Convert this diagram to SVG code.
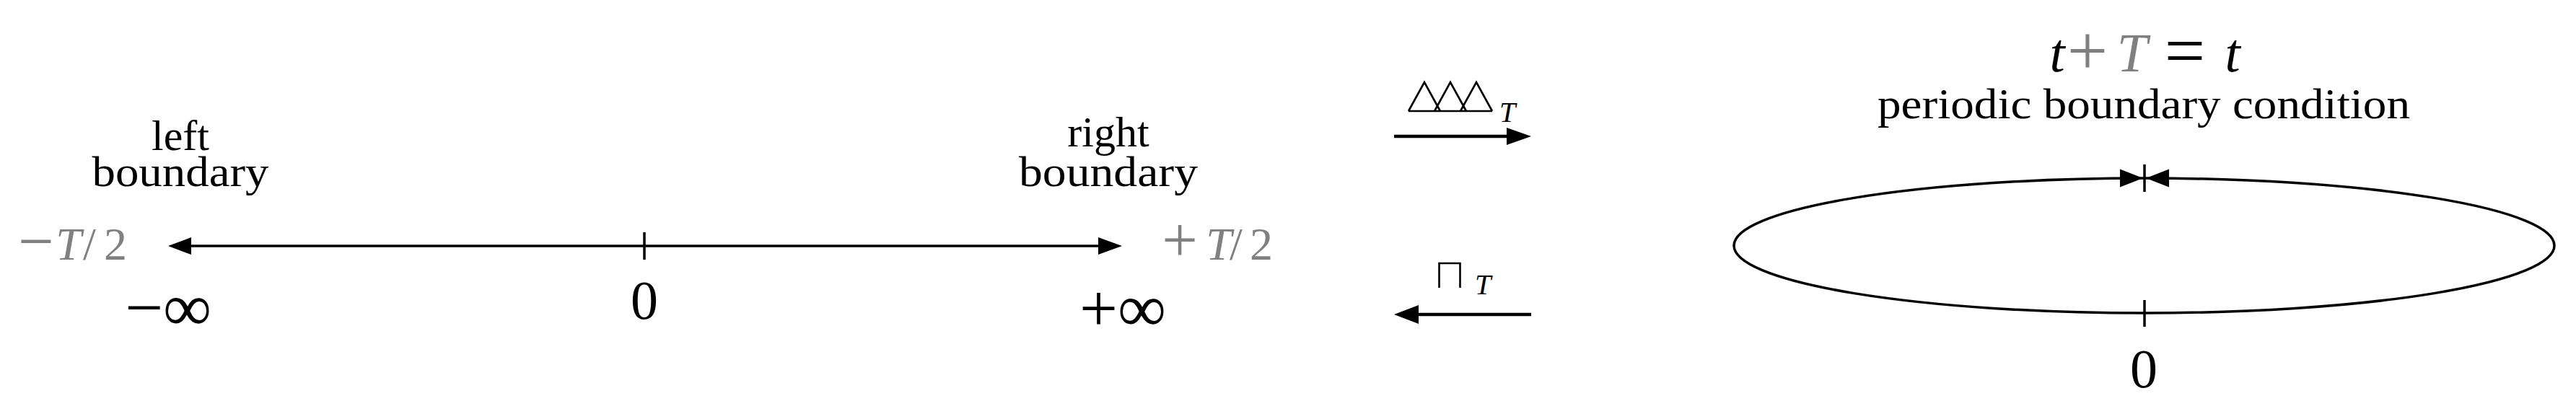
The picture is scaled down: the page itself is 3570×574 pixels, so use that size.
<svg xmlns="http://www.w3.org/2000/svg" width="3570" height="574" viewBox="0 0 3570 574">
<style>
text{font-family:"Liberation Serif","DejaVu Serif",serif;fill:#000}
.lbl{font-size:60px;text-anchor:middle}
.math{font-size:76px;text-anchor:middle}
.big{font-size:94px;text-anchor:middle}
.op{font-size:88px;text-anchor:middle}
.half{font-size:64px;text-anchor:middle}
.it{font-style:italic}
.gray{fill:#808080}
.ln{stroke:#000;stroke-width:3.5;fill:none}
.thick{stroke:#000;stroke-width:4.5;fill:none}
.thin{stroke:#000;stroke-width:2.6;fill:none;stroke-linejoin:miter}
.head{fill:#000;stroke:none}
</style>
<rect width="3570" height="574" fill="#fff"/>

<g id="left-boundary">
  <text class="lbl"><tspan x="250" y="208">left</tspan><tspan x="250" y="258" textLength="245" lengthAdjust="spacingAndGlyphs">boundary</tspan></text>
</g>
<g id="right-boundary">
  <text class="lbl"><tspan x="1536" y="203">right</tspan><tspan x="1536" y="258" textLength="248" lengthAdjust="spacingAndGlyphs">boundary</tspan></text>
</g>
<g id="minus-half-period">
  <text class="half gray"><tspan class="op" x="50" y="364">−</tspan><tspan class="it" x="95" y="360">T</tspan><tspan x="124" y="360">/</tspan><tspan x="160" y="360">2</tspan></text>
</g>
<g id="plus-half-period">
  <text class="half gray"><tspan class="op" x="1635" y="362">+</tspan><tspan class="it" x="1689" y="360">T</tspan><tspan x="1713" y="360">/</tspan><tspan x="1748" y="360">2</tspan></text>
</g>
<g id="minus-infinity">
  <text class="big" x="233" y="458">−∞</text>
</g>
<g id="origin">
  <text class="math" x="893" y="442">0</text>
</g>
<g id="plus-infinity">
  <text class="big" x="1556" y="459">+∞</text>
</g>

<g id="periodize-label">
  <path class="thin" d="M1952,154 L1974,114 L1996,154 M1988,154 L2010,114 L2032,154 M2024,154 L2046,114 L2068,154 M1952,154 H2068"/>
  <text class="it" x="2078" y="169" style="font-size:40px">T</text>
</g>
<g id="restrict-label">
  <path class="thin" d="M1994.5,399 V365 H2023.5 V399"/>
  <text class="it" x="2044" y="408" style="font-size:40px">T</text>
</g>

<g id="circle-node">
  <ellipse class="ln" cx="2971.5" cy="340.5" rx="568.5" ry="93.5"/>
  <text class="math"><tspan class="it" x="2851" y="99">t</tspan><tspan class="gray" x="2893" y="104" style="font-size:100px">+</tspan><tspan class="it gray" x="2955" y="99">T</tspan><tspan x="3028" y="104" style="font-size:100px">=</tspan><tspan class="it" x="3094" y="99">t</tspan><tspan x="2971" y="164" style="font-size:60px" textLength="738" lengthAdjust="spacingAndGlyphs">periodic boundary condition</tspan></text>
  <text class="math" x="2971" y="537">0</text>
</g>

<g id="connectors">
  <line class="ln" x1="258" y1="341" x2="1530" y2="341"/>
  <polygon class="head" points="233,341 265,329 265,353"/>
  <polygon class="head" points="1555,341 1522,329 1522,353"/>
  <line class="ln" x1="893" y1="322" x2="893" y2="360"/>
  <line class="thick" x1="1932" y1="189" x2="2095" y2="189"/>
  <polygon class="head" points="2122,189 2088,177 2088,201"/>
  <line class="thick" x1="1960" y1="436" x2="2122" y2="436"/>
  <polygon class="head" points="1932,436 1966,423 1966,449"/>
  <polygon class="head" points="2970,247 2938,234.5 2938,259.5"/>
  <polygon class="head" points="2974,247 3006,234.5 3006,259.5"/>
  <line class="ln" x1="2972" y1="228" x2="2972" y2="266"/>
  <line class="ln" x1="2972" y1="416" x2="2972" y2="453"/>
</g>
</svg>
